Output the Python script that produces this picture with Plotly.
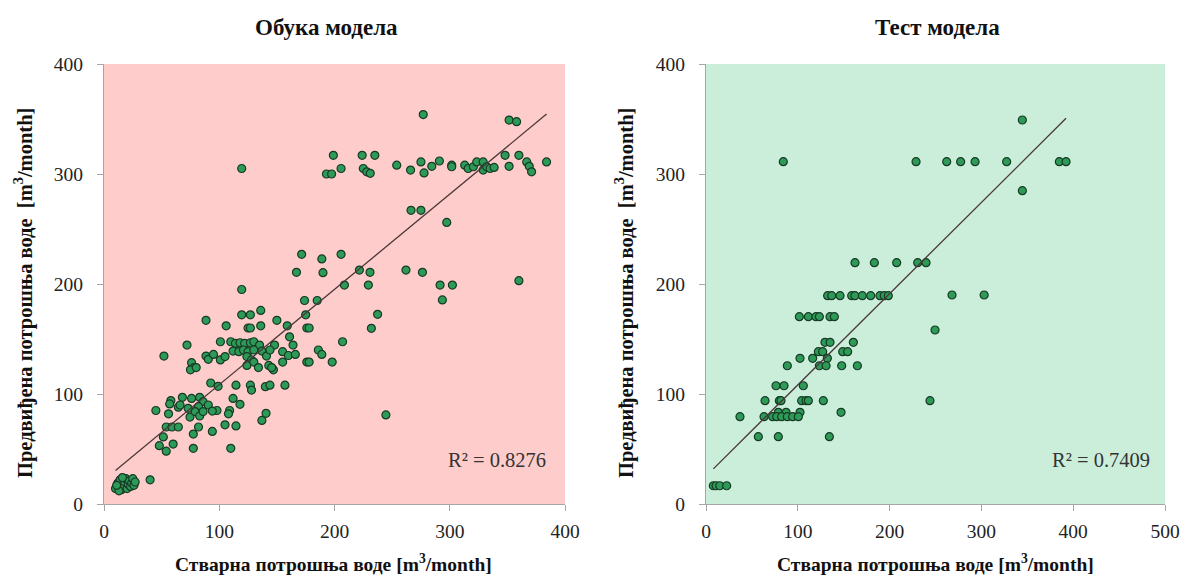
import numpy as np
import plotly.graph_objects as go

# ---------------- data ----------------
train_actual = [
    10, 12, 14, 15, 17, 18, 19, 20, 21, 22, 23, 24, 25, 26, 13, 16, 27, 11, 40,
    119.5, 119.5, 127, 136, 88.5, 106, 125, 127, 136, 150, 159, 174, 185, 175, 176, 178, 161,
    72, 101, 110, 114, 118, 122, 127, 130, 135, 112, 117, 121, 125, 130, 137, 124, 128, 141,
    148, 155, 160, 164, 166, 155, 144, 52, 88.5, 90.5, 95, 101, 105, 76, 78, 75, 80,
    124, 130, 134, 143, 147, 145.5, 176, 178, 186, 189, 198,
    92.6, 99, 114.5, 127, 128, 140, 144, 157, 58, 57, 68, 76, 83, 86, 90.5, 98, 112, 118,
    109, 108, 45, 56, 64.5, 66, 74.6, 82, 79, 83, 94, 86, 73, 54, 59, 64.5, 51.5, 60, 48, 54,
    77.5, 82, 94, 105, 114.5, 110, 77.5, 137, 140.6,
    277, 351.5, 358, 199, 224, 235, 205.7, 225, 228, 231, 254, 266, 275, 277.7, 284.4, 291,
    301.7, 301.7, 313, 316, 320.5, 323.4, 329, 329, 332, 335, 338.5, 348, 351.5, 360, 366.8,
    369, 371, 384, 266.4, 275, 297.4, 205.7, 221.6, 230.8, 262, 276.3, 360, 208.6, 229.4,
    291.6, 302.3,
    119.5, 193, 197.5, 171.5, 189, 167, 190,
    293.6, 237.4, 232, 207, 244.6,
]
train_pred = [
    14, 19, 22, 13, 16, 20, 23, 14, 18, 21, 16, 19, 23, 17, 12, 24, 20, 17, 22,
    195, 172, 172, 176, 167, 162, 160, 160, 162, 167, 162, 185, 185, 172, 160, 160, 152,
    144.5, 147.5, 147.5, 146, 146.6, 146, 146.6, 147.5, 144.5, 139, 138.5, 140, 138.5, 140, 139, 134, 131, 134.5,
    144.5, 138.5, 135, 144.5, 136, 129, 140, 134.5, 134.5, 131.5, 136, 131, 134, 128.5, 124, 122, 124,
    126, 129, 124, 126, 122, 124, 129, 129, 140, 136, 129,
    110, 107, 108, 108, 103.6, 106.7, 108, 108, 94, 91, 97, 96, 97, 93, 90, 85, 96, 90.6,
    85, 82, 85, 82, 88, 90, 79, 88.5, 84, 80, 84.5, 84, 87, 70, 70, 70, 61, 54.5, 53, 48,
    63.6, 70, 66, 72, 71, 50.6, 50.6, 76, 82.4,
    354, 349, 347.6, 317, 317, 317, 305, 305, 302, 300.6, 308, 303.6, 311, 301, 307, 311.8,
    308, 306.6, 308, 305, 306.6, 311, 311, 303.6, 306.6, 305, 306, 317, 307, 317, 311,
    307, 302, 311, 267, 267, 256, 227, 212.7, 210.6, 212.7, 210.6, 203, 199, 199,
    199, 199,
    305, 300, 300, 227, 222.8, 210.6, 210.3,
    185.5, 172.4, 159.7, 147.5, 81,
]

test_actual = [
    8, 11, 15, 22.5,
    132.5, 136.9, 146, 158.7, 162.3, 170.3, 179.4, 189.5, 194.2, 198.6,
    101.7, 111.5, 119.8, 123.5, 135.1, 139.8,
    249.5,
    129.6, 135.1, 160.5,
    122.4, 127.1, 148.9, 154.3,
    102.4, 116.2, 132.2,
    88.6, 123.5, 130.8, 147.8, 164.9,
    76.3, 85, 106,
    64.3, 79.9, 81.7, 104.2, 108.9, 111.5, 127.8, 244,
    78.8, 87.2, 102.4, 147.1,
    37, 63.2, 72.6, 77, 82.4, 88.6, 94.4, 100.6,
    57, 78.8, 134.4,
    84.2, 228.8, 162.3, 183.4, 207.7, 230.6, 239.7,
    344.6, 262.2, 277.4, 293.1, 327.5, 384.9, 392.2, 344.6,
    268, 303,
]
test_pred = [
    16.6, 16.6, 16.6, 16.6,
    189.4, 189.4, 189.4, 189.4, 189.4, 189.4, 189.4, 189.4, 189.4, 189.4,
    170.3, 170.3, 170.3, 170.3, 170.3, 170.3,
    158.2,
    147, 147, 147,
    138.5, 138.5, 138.5, 138.5,
    132.4, 132.4, 132.4,
    125.7, 125.7, 125.7, 125.7, 125.7,
    107.5, 107.5, 107.5,
    93.9, 93.9, 93.9, 93.9, 93.9, 93.9, 93.9, 93.9,
    83.3, 83.3, 83.3, 83.3,
    79.4, 79.4, 79.4, 79.4, 79.4, 79.4, 79.4, 79.4,
    61.2, 61.2, 61.2,
    311.2, 311.2, 219.4, 219.4, 219.4, 219.4, 219.4,
    349.1, 311.2, 311.2, 311.2, 311.2, 311.2, 311.2, 284.8,
    190, 190,
]

# linear trendlines as shown in the reference: [slope, intercept]
trend_train = [0.866, 21.9]
trend_test = [0.8295, 25.3]

r2_labels = ["R² = 0.8276", "R² = 0.7409"]
panel_titles = ["Обука модела", "Тест модела"]
x_title = "Стварна потрошња воде [m<sup>3</sup>/month]"
y_title = "Предвиђена потрошња воде  [m<sup>3</sup>/month]"
x_ticks_train = [0, 100, 200, 300, 400]
x_ticks_test = [0, 100, 200, 300, 400, 500]
y_ticks = [0, 100, 200, 300, 400]

# ---------------- figure ----------------
SERIF = "Liberation Serif, Times New Roman, serif"
marker = dict(size=8, color="#2e9a58", line=dict(color="#173a25", width=1.2))
line_style = dict(color="#4a3838", width=1.3)

# body margin is removed below, so figure pixels == window pixels
OFF = 0
W, H = 1183, 575


def px(X):
    return (X - OFF) / W


def py(Y):
    return 1 - (Y - OFF) / H


fig = go.Figure()

for xs, ys, tr, xa, ya in [(train_actual, train_pred, trend_train, "x", "y"),
                           (test_actual, test_pred, trend_test, "x2", "y2")]:
    fig.add_trace(go.Scatter(x=xs, y=ys, mode="markers", marker=marker,
                             xaxis=xa, yaxis=ya, showlegend=False, hoverinfo="x+y"))
    xl = np.array([min(xs), max(xs)], float)
    fig.add_trace(go.Scatter(x=xl, y=tr[0] * xl + tr[1], mode="lines", line=line_style,
                             xaxis=xa, yaxis=ya, showlegend=False, hoverinfo="skip"))

dx1 = [px(104), px(565)]
dx2 = [px(706), px(1165)]
dy = [py(504), py(64)]

axis_common = dict(showline=True, linecolor="#a6a6a6", linewidth=1, ticks="outside",
                   ticklen=6, tickcolor="#a6a6a6", showgrid=False, zeroline=False,
                   automargin=False,
                   tickfont=dict(family=SERIF, size=19.5, color="#222"), fixedrange=True)

fig.update_layout(
    width=W, height=H,
    margin=dict(l=0, r=0, t=0, b=0, pad=0, autoexpand=False),
    paper_bgcolor="white", plot_bgcolor="white",
    xaxis=dict(domain=dx1, range=[0, 400], tickvals=x_ticks_train, anchor="y",
               ticklabelstandoff=4, **axis_common),
    yaxis=dict(domain=dy, range=[0, 400], tickvals=y_ticks, anchor="x",
               ticklabelstandoff=10, **axis_common),
    xaxis2=dict(domain=dx2, range=[0, 500], tickvals=x_ticks_test, anchor="y2",
                ticklabelstandoff=4, **axis_common),
    yaxis2=dict(domain=dy, range=[0, 400], tickvals=y_ticks, anchor="x2",
                ticklabelstandoff=10, **axis_common),
    shapes=[
        dict(type="rect", xref="x domain", yref="y domain", x0=0, x1=1, y0=0, y1=1,
             fillcolor="#ffcccc", line=dict(width=0), layer="below"),
        dict(type="rect", xref="x2 domain", yref="y2 domain", x0=0, x1=1, y0=0, y1=1,
             fillcolor="#cbeedb", line=dict(width=0), layer="below"),
    ],
)

annotations = []
for i, (tx, cx, yx) in enumerate([(326, 334, 23), (937, 935, 624)]):
    annotations.append(dict(text="<b>%s</b>" % panel_titles[i], x=px(tx), y=py(27),
                            xref="paper", yref="paper", showarrow=False,
                            xanchor="center", yanchor="middle",
                            font=dict(family=SERIF, size=23, color="#111")))
    annotations.append(dict(text="<b>%s</b>" % x_title, x=px(cx), y=py(563),
                            xref="paper", yref="paper", showarrow=False,
                            xanchor="center", yanchor="middle",
                            font=dict(family=SERIF, size=19.5, color="#111")))
    annotations.append(dict(text="<b>%s</b>" % y_title, x=px(yx), y=py(293),
                            xref="paper", yref="paper", showarrow=False, textangle=-90,
                            xanchor="center", yanchor="middle",
                            font=dict(family=SERIF, size=20.5, color="#111")))
annotations.append(dict(text=r2_labels[0], x=385, y=40, xref="x", yref="y",
                        xanchor="right", yanchor="middle",
                        showarrow=False, font=dict(family=SERIF, size=20.5, color="#333")))
annotations.append(dict(text=r2_labels[1], x=486, y=40, xref="x2", yref="y2",
                        xanchor="right", yanchor="middle",
                        showarrow=False, font=dict(family=SERIF, size=20.5, color="#333")))
fig.update_layout(annotations=annotations)

# remove the default page margin and scrollbars so the figure fills the window exactly
fig.write_html("out.html",
               config={"displayModeBar": False},
               post_script="document.documentElement.style.overflow='hidden';"
                           "document.body.style.overflow='hidden';"
                           "document.body.style.margin='0';")
